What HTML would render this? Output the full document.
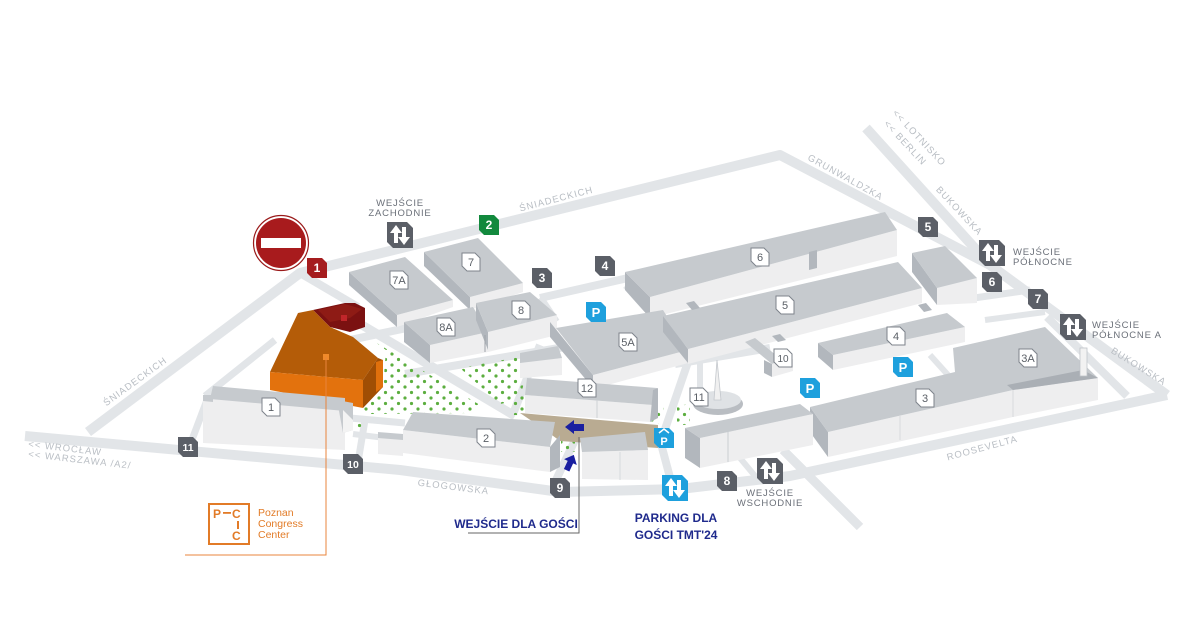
<!DOCTYPE html>
<html><head><meta charset="utf-8"><style>
html,body{margin:0;padding:0;background:#fff;}
svg{display:block;}
text{font-family:"Liberation Sans",sans-serif;}
.st{fill:#b9bec4;font-size:9.5px;letter-spacing:1px;}
.en{fill:#6b7079;font-size:9.5px;letter-spacing:0.8px;}
.lb{fill:#5a5f66;font-size:11px;text-anchor:middle;}
.mk{fill:#fff;font-size:12px;font-weight:bold;text-anchor:middle;}
.nv{fill:#1f2a8c;font-size:12px;font-weight:bold;text-anchor:middle;}
.tp{fill:#c6cace;}
.dk{fill:#b2b7bd;}
.fr{fill:#eeeeef;}
</style></head><body>
<svg width="1190" height="625" viewBox="0 0 1190 625" xmlns="http://www.w3.org/2000/svg">
<defs>
<polygon id="m" points="-10,-10 5,-10 10,-5 10,10 -5,10 -10,5"/>
<polygon id="b" points="-9,-9 4,-9 9,-4 9,9 -4,9 -9,4"/>
<polygon id="e" points="-13,-13 7,-13 13,-7 13,13 -7,13 -13,7"/>
<g id="arr" fill="#fff">
<rect x="-6" y="-3" width="4" height="11"/><polygon points="-10,-2 -4,-10 2,-2"/>
<rect x="2" y="-8" width="4" height="11"/><polygon points="-2,2 4,10 10,2"/>
</g>
<pattern id="dots" width="13" height="11" patternUnits="userSpaceOnUse">
<circle cx="2" cy="2" r="1.6" fill="#5cae3f"/><circle cx="8.5" cy="7.5" r="1.6" fill="#5cae3f"/>
</pattern>
</defs>

<!-- ROADS -->
<g fill="none" stroke="#e2e5e8" stroke-width="10" stroke-linejoin="round">
<polyline points="25,436 400,470 560,492 680,489 790,476 1167,395"/>
<polyline points="88,432 300,273 780,155 990,265"/>
<polyline points="866,128 990,265 1167,395"/>
<line x1="1047" y1="317" x2="1127" y2="396" stroke-width="8"/>
<line x1="783" y1="450" x2="860" y2="527" stroke-width="9"/>
<line x1="300" y1="273" x2="358" y2="307" stroke-width="8"/>
<line x1="350" y1="340" x2="407" y2="328" stroke-width="8"/>
<line x1="362" y1="325" x2="515" y2="416" stroke-width="9"/>
<line x1="405" y1="374" x2="565" y2="347" stroke-width="8"/>
<line x1="540" y1="298" x2="628" y2="278" stroke-width="8"/>
<line x1="540" y1="298" x2="556" y2="322" stroke-width="8"/>
<line x1="626" y1="285" x2="652" y2="310" stroke-width="8"/>
<line x1="540" y1="345" x2="513" y2="414" stroke-width="8"/>
<line x1="688" y1="362" x2="662" y2="438" stroke-width="8"/>
<line x1="675" y1="364" x2="770" y2="348" stroke-width="8"/>
<line x1="660" y1="440" x2="672" y2="485" stroke-width="8"/>
<line x1="205" y1="396" x2="275" y2="340" stroke-width="7"/>
<line x1="190" y1="445" x2="207" y2="400" stroke-width="7"/>
<line x1="350" y1="418" x2="405" y2="423" stroke-width="7"/>
<line x1="365" y1="420" x2="358" y2="462" stroke-width="7"/>
<line x1="353" y1="434" x2="385" y2="438" stroke-width="6"/>
<line x1="556" y1="480" x2="575" y2="440" stroke-width="8"/>
<line x1="700" y1="360" x2="700" y2="395" stroke-width="6"/>
<line x1="960" y1="300" x2="1030" y2="290" stroke-width="7"/>
<line x1="985" y1="320" x2="1045" y2="312" stroke-width="6"/>
<line x1="740" y1="458" x2="760" y2="482" stroke-width="6"/>
<line x1="930" y1="355" x2="948" y2="375" stroke-width="6"/>
</g>

<!-- TREES -->
<g fill="url(#dots)">
<polygon points="375,342 480,405 472,413 368,414 363,408 383,388 386,350"/>
<polygon points="460,368 530,355 520,400 500,404"/>
<polygon points="515,392 527,389 524,415 511,415"/>
<polygon points="650,408 664,406 662,424 650,424"/>
<polygon points="677,406 690,404 690,424 677,426"/>
<polygon points="561,440 575,440 575,452 561,452"/>
<polygon points="355,422 363,422 363,430 355,430"/>
</g>

<!-- BUILDINGS -->
<polygon class="dk" points="349,272 397,315 397,327 349,285"/>
<polygon class="fr" points="397,315 453,300 453,307 397,327"/>
<polygon class="tp" points="349,272 405,257 453,300 397,315"/>
<polygon class="dk" points="424,252 470,297 470,310 424,266"/>
<polygon class="fr" points="470,297 523,283 523,292 470,310"/>
<polygon class="tp" points="424,252 478,238 523,283 470,297"/>
<polygon class="dk" points="404,322 430,345 430,363 404,342"/>
<polygon class="fr" points="430,345 488,332 488,352 430,363"/>
<polygon class="tp" points="404,322 473,307 488,332 430,345"/>
<polygon class="dk" points="476,303 488,332 488,350 476,320"/>
<polygon class="fr" points="488,332 557,315 557,335 488,352"/>
<polygon class="tp" points="476,303 530,292 557,315 488,332"/>
<line x1="485" y1="335" x2="485" y2="352" stroke="#9ea3a9" stroke-width="1"/>
<polygon class="dk" points="625,272 650,297 650,318 625,290"/>
<polygon class="fr" points="650,297 897,230 897,256 650,318"/>
<polygon class="tp" points="625,272 885,212 897,230 650,297"/>
<polygon class="dk" points="809,252 817,250 817,268 809,270"/>
<polygon class="dk" points="912,253 937,288 937,305 912,272"/>
<polygon class="fr" points="937,288 977,278 977,303 937,305"/>
<polygon class="tp" points="912,253 945,246 977,278 937,288"/>
<polygon class="dk" points="550,322 593,375 593,388 550,337"/>
<polygon class="fr" points="593,375 688,350 688,363 593,389"/>
<polygon class="tp" points="556,328 663,310 688,350 593,375"/>
<polygon class="dk" points="663,316 688,349 688,363 663,332"/>
<polygon class="fr" points="688,349 922,288 922,303 688,364"/>
<polygon class="tp" points="663,316 898,262 922,288 688,349"/>
<polygon class="dk" points="686,303 694,301 700,308 692,310"/>
<polygon class="dk" points="772,336 780,334 786,340 778,342"/>
<polygon class="dk" points="918,305 926,303 932,310 924,312"/>
<polygon class="dk" points="818,343 833,355 833,370 818,357"/>
<polygon class="fr" points="833,355 965,327 965,342 833,370"/>
<polygon class="tp" points="818,343 947,313 965,327 833,355"/>
<polygon class="tp" points="745,342 755,338 782,360 772,364"/>
<polygon class="dk" points="764,360 772,364 772,377 764,373"/>
<polygon class="fr" points="772,364 793,359 793,371 772,377"/>
<polygon class="fr" points="520,362 562,358 562,375 520,378"/>
<polygon class="tp" points="520,353 558,346 562,358 520,363"/>
<polygon fill="#b9ab92" points="520,413 658,425 658,448 560,441 545,430"/>
<polygon class="fr" points="525,395 653,405 650,422 525,413"/>
<polygon class="tp" points="527,378 657,388 653,405 525,395"/>
<polygon class="dk" points="653,390 658,388 658,418 650,422"/>
<line x1="597" y1="400" x2="597" y2="418" stroke="#cfd2d6"/>
<polygon class="dk" points="810,407 828,432 828,457 810,432"/>
<polygon class="fr" points="828,432 1013,390 1098,378 1098,400 1013,417 828,457"/>
<polygon class="tp" points="810,407 955,372 953,348 1045,327 1098,378 1013,390 828,432"/>
<polygon fill="#aaafb5" points="1007,385 1083,370 1098,378 1013,390"/>
<line x1="1013" y1="390" x2="1013" y2="417" stroke="#d8dadd"/>
<line x1="900" y1="416" x2="900" y2="440" stroke="#d8dadd"/>
<rect x="1080" y="348" width="7" height="28" fill="#f2f2f2" stroke="#bfc3c8" stroke-width="0.8"/>
<polygon class="dk" points="685,428 700,438 700,468 685,458"/>
<polygon class="fr" points="700,438 813,414 813,445 700,468"/>
<polygon class="tp" points="685,428 800,404 813,414 700,438"/>
<line x1="728" y1="432" x2="728" y2="462" stroke="#c9cdd1"/>
<ellipse cx="718" cy="404" rx="25" ry="11" fill="#b9bdc2"/>
<ellipse cx="718" cy="400" rx="23" ry="9" fill="#dfe2e5"/>
<polygon points="714,400 717,360 721,400" fill="#f0f0f0" stroke="#c3c7cc" stroke-width="0.8"/>
<!-- PCC -->
<polygon fill="#7b1111" points="313,310 345,303 355,303 365,308 365,327 350,332 330,327"/>
<polygon fill="#8e1b15" points="318,310 345,304 362,309 350,318 330,322"/>
<rect x="341" y="315" width="6" height="6" fill="#c0262a"/>
<polygon fill="#b45c08" points="270,372 298,313 313,310 330,327 353,337 378,358 363,380"/>
<polygon fill="#a04e04" points="363,380 378,358 383,360 383,387 363,408"/>
<polygon fill="#e0700c" points="376,362 383,360 383,387 376,392"/>
<polygon fill="#e3720d" points="270,372 363,380 363,408 270,390"/>
<rect x="323" y="354" width="6" height="6" fill="#f08a2a"/>
<!-- 1 -->
<polygon class="fr" points="203,398 345,410 345,450 203,443"/>
<polygon class="tp" points="213,386 345,398 345,411 210,399"/>
<polygon class="tp" points="203,395 213,395 213,402 203,401"/>
<polygon fill="#c6cace" points="337,400 353,403 353,430 343,433"/>
<polygon fill="#f3f3f3" points="343,410 353,420 353,430 343,433"/>
<polygon class="fr" points="378,436 403,438 403,456 378,454"/>
<polygon class="tp" points="378,432 403,434 403,440 378,438"/>
<!-- 2 -->
<polygon class="fr" points="403,430 550,447 550,472 403,453"/>
<polygon class="tp" points="413,412 555,422 550,447 403,430"/>
<polygon class="dk" points="550,447 560,435 560,467 550,472"/>
<polygon class="fr" points="582,452 648,450 648,480 582,479"/>
<polygon class="tp" points="580,438 645,432 648,450 582,452"/>
<line x1="620" y1="452" x2="620" y2="480" stroke="#d6d9dc"/>

<polyline points="326,357 326,555 185,555" fill="none" stroke="#e8843c" stroke-width="1"/>

<circle cx="281" cy="243" r="27.5" fill="#fff" stroke="#9a1a1a" stroke-width="1.2"/>
<circle cx="281" cy="243" r="25" fill="#a81b1d"/>
<rect x="261" y="238" width="40" height="10" fill="#fff"/>

<g fill="#fff" stroke="#7d838b" stroke-width="1">
<use href="#b" x="399" y="280"/><use href="#b" x="471" y="262"/><use href="#b" x="446" y="327"/>
<use href="#b" x="521" y="310"/><use href="#b" x="628" y="342"/><use href="#b" x="760" y="257"/>
<use href="#b" x="785" y="305"/><use href="#b" x="896" y="336"/><use href="#b" x="783" y="358"/>
<use href="#b" x="587" y="388"/><use href="#b" x="699" y="397"/><use href="#b" x="925" y="398"/>
<use href="#b" x="1028" y="358"/><use href="#b" x="271" y="407"/><use href="#b" x="486" y="438"/>
</g>
<g class="lb">
<text x="399" y="284">7A</text><text x="471" y="266">7</text><text x="446" y="331">8A</text>
<text x="521" y="314">8</text><text x="628" y="346">5A</text><text x="760" y="261">6</text>
<text x="785" y="309">5</text><text x="896" y="340">4</text><text x="783" y="362" font-size="10">10</text>
<text x="587" y="392">12</text><text x="699" y="401">11</text><text x="925" y="402">3</text>
<text x="1028" y="362">3A</text><text x="271" y="411">1</text><text x="486" y="442">2</text>
</g>

<g fill="#5b5f67">
<use href="#m" x="542" y="278"/><use href="#m" x="605" y="266"/><use href="#m" x="928" y="227"/>
<use href="#m" x="992" y="282"/><use href="#m" x="1038" y="299"/><use href="#m" x="727" y="481"/>
<use href="#m" x="560" y="488"/><use href="#m" x="353" y="464"/><use href="#m" x="188" y="447"/>
</g>
<use href="#m" x="317" y="268" fill="#a51c1e"/>
<use href="#m" x="489" y="225" fill="#12893d"/>
<g class="mk">
<text x="542" y="282">3</text><text x="605" y="270">4</text><text x="928" y="231">5</text>
<text x="992" y="286">6</text><text x="1038" y="303">7</text><text x="727" y="485">8</text>
<text x="560" y="492">9</text><text x="353" y="468" font-size="10.5">10</text><text x="188" y="451" font-size="10.5">11</text>
<text x="317" y="272">1</text><text x="489" y="229">2</text>
</g>

<g fill="#5b5f67">
<use href="#e" x="400" y="235"/><use href="#e" x="992" y="253"/><use href="#e" x="1073" y="327"/><use href="#e" x="770" y="471"/>
</g>
<use href="#e" x="675" y="488" fill="#1ea0dd"/>
<use href="#arr" x="400" y="235"/><use href="#arr" x="992" y="253"/><use href="#arr" x="1073" y="327"/><use href="#arr" x="770" y="471"/><use href="#arr" x="675" y="488"/>

<g fill="#1ea0dd">
<use href="#m" x="596" y="312"/><use href="#m" x="810" y="388"/><use href="#m" x="903" y="367"/><use href="#m" x="664" y="438"/>
</g>
<g class="mk">
<text x="596" y="317" font-size="13">P</text><text x="810" y="393" font-size="13">P</text><text x="903" y="372" font-size="13">P</text><text x="664" y="445" font-size="11">P</text>
</g>
<polyline points="659,433 664,429 669,433" fill="none" stroke="#fff" stroke-width="1.5"/>

<polygon fill="#1a1fa0" points="565,427 574,420 574,424 584,424 584,431 574,431 574,434"/>
<g transform="translate(570,463) rotate(25)"><polygon fill="#1a1fa0" points="0,-9 7,-1 3,-1 3,8 -3,8 -3,-1 -7,-1"/></g>

<polyline points="468,533 579,533 579,437" fill="none" stroke="#666" stroke-width="1"/>

<text class="nv" x="516" y="528">WEJŚCIE DLA GOŚCI</text>
<text class="nv" x="676" y="522">PARKING DLA</text>
<text class="nv" x="676" y="539">GOŚCI TMT'24</text>

<g class="en">
<text x="400" y="206" text-anchor="middle">WEJŚCIE</text>
<text x="400" y="216" text-anchor="middle">ZACHODNIE</text>
<text x="1013" y="255">WEJŚCIE</text>
<text x="1013" y="265">PÓŁNOCNE</text>
<text x="1092" y="328">WEJŚCIE</text>
<text x="1092" y="338">PÓŁNOCNE A</text>
<text x="770" y="496" text-anchor="middle">WEJŚCIE</text>
<text x="770" y="506" text-anchor="middle">WSCHODNIE</text>
</g>

<g class="st">
<text transform="translate(137,384) rotate(-36)" text-anchor="middle">ŚNIADECKICH</text>
<text transform="translate(557,202) rotate(-14.5)" text-anchor="middle">ŚNIADECKICH</text>
<text transform="translate(844,180) rotate(29)" text-anchor="middle">GRUNWALDZKA</text>
<text transform="translate(917,140) rotate(47)" text-anchor="middle">&lt;&lt; LOTNISKO</text>
<text transform="translate(903,145) rotate(47)" text-anchor="middle">&lt;&lt; BERLIN</text>
<text transform="translate(957,213) rotate(47)" text-anchor="middle">BUKOWSKA</text>
<text transform="translate(1137,369) rotate(32)" text-anchor="middle">BUKOWSKA</text>
<text transform="translate(983,451) rotate(-15)" text-anchor="middle">ROOSEVELTA</text>
<text transform="translate(453,490) rotate(7)" text-anchor="middle">GŁOGOWSKA</text>
<text transform="translate(28,447) rotate(6.5)">&lt;&lt; WROCŁAW</text>
<text transform="translate(28,457) rotate(6.5)">&lt;&lt; WARSZAWA /A2/</text>
</g>

<rect x="209" y="504" width="40" height="40" fill="none" stroke="#e27b27" stroke-width="2"/>
<g fill="#e27b27" font-weight="bold" font-size="12">
<text x="213" y="518">P</text><rect x="223" y="512" width="8" height="1.8"/><text x="232" y="518">C</text>
<rect x="237" y="521" width="2" height="8"/>
<text x="232" y="540">C</text>
</g>
<g fill="#e27b27" font-size="10.5">
<text x="258" y="516">Poznan</text><text x="258" y="527">Congress</text><text x="258" y="538">Center</text>
</g>
</svg>
</body></html>
